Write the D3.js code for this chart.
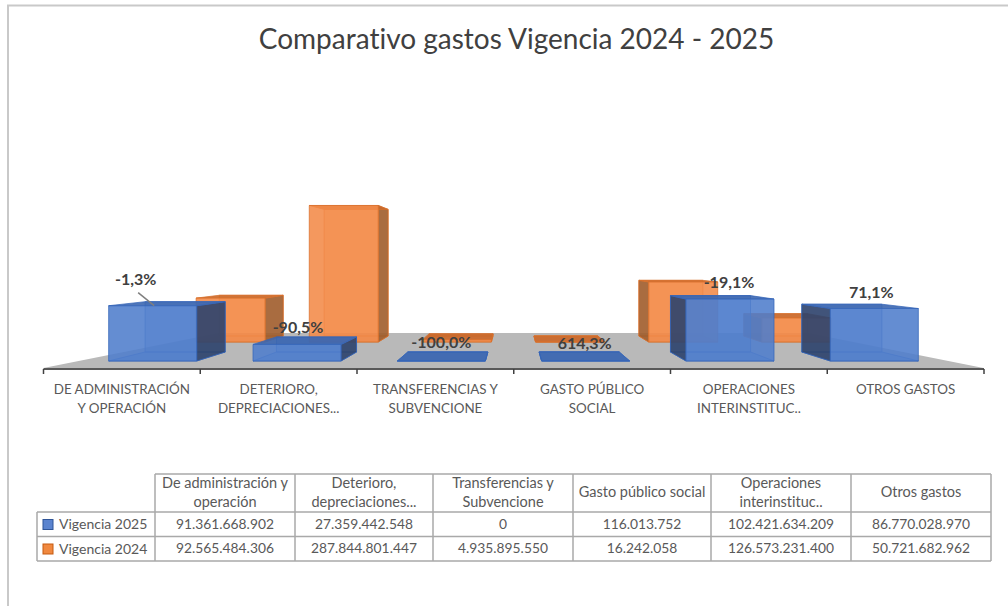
<!DOCTYPE html>
<html>
<head>
<meta charset="utf-8">
<script src="https://d3js.org/d3.v7.min.js"></script>
<style>
  html, body { margin: 0; padding: 0; background: #fff; }
  svg { display: block; font-family: Lato, "Open Sans", sans-serif; font-variant-ligatures: none; }
</style>
</head>
<body>
<svg id="chart" width="1008" height="606"></svg>
<script>
const titleText = 'Comparativo gastos Vigencia 2024 - 2025';
const axisLabels = [['DE ADMINISTRACIÓN', 'Y OPERACIÓN'],
                    ['DETERIORO,', 'DEPRECIACIONES...'],
                    ['TRANSFERENCIAS Y', 'SUBVENCIONE'],
                    ['GASTO PÚBLICO', 'SOCIAL'],
                    ['OPERACIONES', 'INTERINSTITUC..'],
                    ['OTROS GASTOS']];
const tableLabels = [['De administración y', 'operación'],
                     ['Deterioro,', 'depreciaciones...'],
                     ['Transferencias y', 'Subvencione'],
                     ['Gasto público social'],
                     ['Operaciones', 'interinstituc..'],
                     ['Otros gastos']];
const vigencia2025 = [91361668902, 27359442548, 0, 116013752, 102421634209, 86770028970];
const vigencia2024 = [92565484306, 287844801447, 4935895550, 16242058, 126573231400, 50721682962];
const seriesNames = ['Vigencia 2025', 'Vigencia 2024'];

const W = 1008, H = 606;
const svg = d3.select('#chart');

// top and left edge of the chart frame
svg.append('path').attr('d', 'M8,' + H + 'V5.5H' + W)
  .attr('fill', 'none').attr('stroke', '#c9c9c9').attr('stroke-width', 2);

svg.append('text').attr('x', 516.5).attr('y', 49).attr('text-anchor', 'middle')
  .attr('font-size', 28).attr('fill', '#404040').text(titleText);

// 3D projection: depth 0 is the front of the blue row, 3 the back of the orange row, 4 the floor's end
const depthScale = d3.scaleLinear().domain([-1, 0, 1, 2, 3, 4]).range([1.083, 1, 0.91, 0.784, 0.727, 0.678]);
const baseScale = d3.scaleLinear().domain([-1, 0, 1, 2, 3, 4]).range([368, 361, 352, 342, 336, 333]);
const centerX = 513.5;
const xBand = d3.scaleBand().domain(d3.range(6)).range([-433, 433]);
const barWidth = 88;
const yScale = d3.scaleLinear().domain([0, 1e9]).range([0, 0.605]);

function project(x, depth, value) {
  const s = depthScale(depth);
  return [centerX + x * s, baseScale(depth) - yScale(value) * s];
}
function face(points) {
  return 'M' + points.map(p => project(p[0], p[1], p[2]).join(',')).join('L') + 'Z';
}

// floor
svg.append('path')
  .attr('d', face([[-434, -1, 0], [434, -1, 0], [434, 4, 0], [-434, 4, 0]]))
  .attr('fill', '#b9b9b9');

function drawBar(g, i, value, d0, d1, colors) {
  const cx = xBand(i) + xBand.bandwidth() / 2;
  const x0 = cx - barWidth / 2, x1 = cx + barWidth / 2;
  const sideX = cx < 0 ? x1 : x0;
  const faces = [
    { pts: [[x0, d1, 0], [x1, d1, 0], [x1, d1, value], [x0, d1, value]], fill: colors.front, op: 0.4 },
    { pts: [[x0, d0, 0], [x1, d0, 0], [x1, d1, 0], [x0, d1, 0]], fill: colors.front, op: 0.4 },
    { pts: [[sideX, d0, 0], [sideX, d1, 0], [sideX, d1, value], [sideX, d0, value]], fill: colors.side, op: 0.85 },
    { pts: [[x0, d0, value], [x1, d0, value], [x1, d1, value], [x0, d1, value]], fill: colors.top, op: 0.9 },
    { pts: [[x0, d0, 0], [x1, d0, 0], [x1, d0, value], [x0, d0, value]], fill: colors.front, op: 0.88 }
  ];
  g.selectAll(null).data(faces).enter().append('path')
    .attr('d', d => face(d.pts))
    .attr('fill', d => d.fill)
    .attr('fill-opacity', d => d.op)
    .attr('stroke', colors.stroke)
    .attr('stroke-opacity', 0.75)
    .attr('stroke-width', 1);
}

const orange = { front: '#f28a48', side: '#9a5a2c', top: '#c9682a', stroke: '#d8702c' };
const blue = { front: '#4f7dcc', side: '#2b3f66', top: '#3b66b0', stroke: '#3566b8' };

const barsG = svg.append('g');
vigencia2024.forEach((v, i) => drawBar(barsG, i, v, 2, 3, orange));
vigencia2025.forEach((v, i) => drawBar(barsG, i, v, 0, 1, blue));

// axis along the front of the floor
const axisScale = d3.scaleBand().domain(d3.range(6)).range([43.5, 984]);
const axisG = svg.append('g').attr('transform', 'translate(0,369)');
axisG.append('line').attr('x1', 43.5).attr('x2', 984)
  .attr('stroke', '#595959').attr('stroke-width', 2);
axisG.selectAll(null).data(d3.range(7)).enter().append('line')
  .attr('x1', d => 43.5 + d * axisScale.bandwidth())
  .attr('x2', d => 43.5 + d * axisScale.bandwidth())
  .attr('y1', 0).attr('y2', 5)
  .attr('stroke', '#404040').attr('stroke-width', 1.5);

const axisText = svg.append('g').attr('font-size', 13.4).attr('fill', '#595959').attr('text-anchor', 'middle');
axisLabels.forEach((lines, i) => {
  lines.forEach((t, k) => {
    axisText.append('text')
      .attr('x', axisScale(i) + axisScale.bandwidth() / 2)
      .attr('y', 393.5 + k * 19.5)
      .text(t);
  });
});

// data labels: change of 2025 against 2024
const pct = d3.format('.1f');
const labelNudge = [[-17, -17], [1, -4], [0, -4], [-1, -3], [-1, -8], [-3, -6]];
const labelG = svg.append('g').attr('font-size', 16).attr('font-weight', 700)
  .attr('fill', '#404040').attr('text-anchor', 'middle');
vigencia2025.forEach((v, i) => {
  const change = (v - vigencia2024[i]) / vigencia2024[i] * 100;
  const cx = xBand(i) + xBand.bandwidth() / 2;
  const p = project(cx, 1, v);
  labelG.append('text')
    .attr('x', p[0] + labelNudge[i][0] + (cx * 0.09))
    .attr('y', p[1] + labelNudge[i][1])
    .text(pct(change).replace('.', ',').replace('\u2212', '-') + '%');
});
// leader line of the first label
const leadTop = project(xBand(0) + xBand.bandwidth() / 2, 1, vigencia2025[0]);
svg.append('line')
  .attr('x1', leadTop[0] - 47).attr('y1', leadTop[1] - 9)
  .attr('x2', leadTop[0] - 31).attr('y2', leadTop[1] + 4)
  .attr('stroke', '#7f7f7f').attr('stroke-width', 1.5);

// data table
const colEdges = d3.scaleOrdinal().domain(d3.range(7)).range([155, 295, 433, 573, 711, 851, 991]);
const rowTop = 474, rowHead = 512, rowMid = 536.5, rowBottom = 561;
const legendLeft = 37;
const tableG = svg.append('g').attr('stroke', '#a9a9a9').attr('stroke-width', 1.5);
d3.range(7).forEach(i => {
  tableG.append('line').attr('x1', colEdges(i)).attr('x2', colEdges(i)).attr('y1', rowTop).attr('y2', rowBottom);
});
tableG.append('line').attr('x1', 155).attr('x2', 991).attr('y1', rowTop).attr('y2', rowTop);
[rowHead, rowMid, rowBottom].forEach(y => {
  tableG.append('line').attr('x1', legendLeft).attr('x2', 991).attr('y1', y).attr('y2', y);
});
tableG.append('line').attr('x1', legendLeft).attr('x2', legendLeft).attr('y1', rowHead).attr('y2', rowBottom);

const tableText = svg.append('g').attr('fill', '#595959').attr('text-anchor', 'middle');
const number = v => d3.format(',')(v).replace(/,/g, '.');
tableLabels.forEach((lines, i) => {
  const cx = (colEdges(i) + colEdges(i + 1)) / 2;
  const y0 = lines.length === 2 ? 488 : 497;
  lines.forEach((t, k) => {
    tableText.append('text').attr('x', cx).attr('y', y0 + k * 19).attr('font-size', 14.5).text(t);
  });
  tableText.append('text').attr('x', cx).attr('y', 529).attr('font-size', 13.8).text(number(vigencia2025[i]));
  tableText.append('text').attr('x', cx).attr('y', 553).attr('font-size', 13.8).text(number(vigencia2024[i]));
});
seriesNames.forEach((name, k) => {
  const y = k === 0 ? rowHead : rowMid;
  svg.append('rect').attr('x', 43).attr('y', y + 7.5).attr('width', 10).attr('height', 10)
    .attr('fill', k === 0 ? '#5b84cf' : '#f0883f')
    .attr('stroke', k === 0 ? '#2f5597' : '#c55a11').attr('stroke-width', 1);
  svg.append('text').attr('x', 59).attr('y', y + 17).attr('font-size', 14).attr('fill', '#595959').text(name);
});
</script>
</body>
</html>
